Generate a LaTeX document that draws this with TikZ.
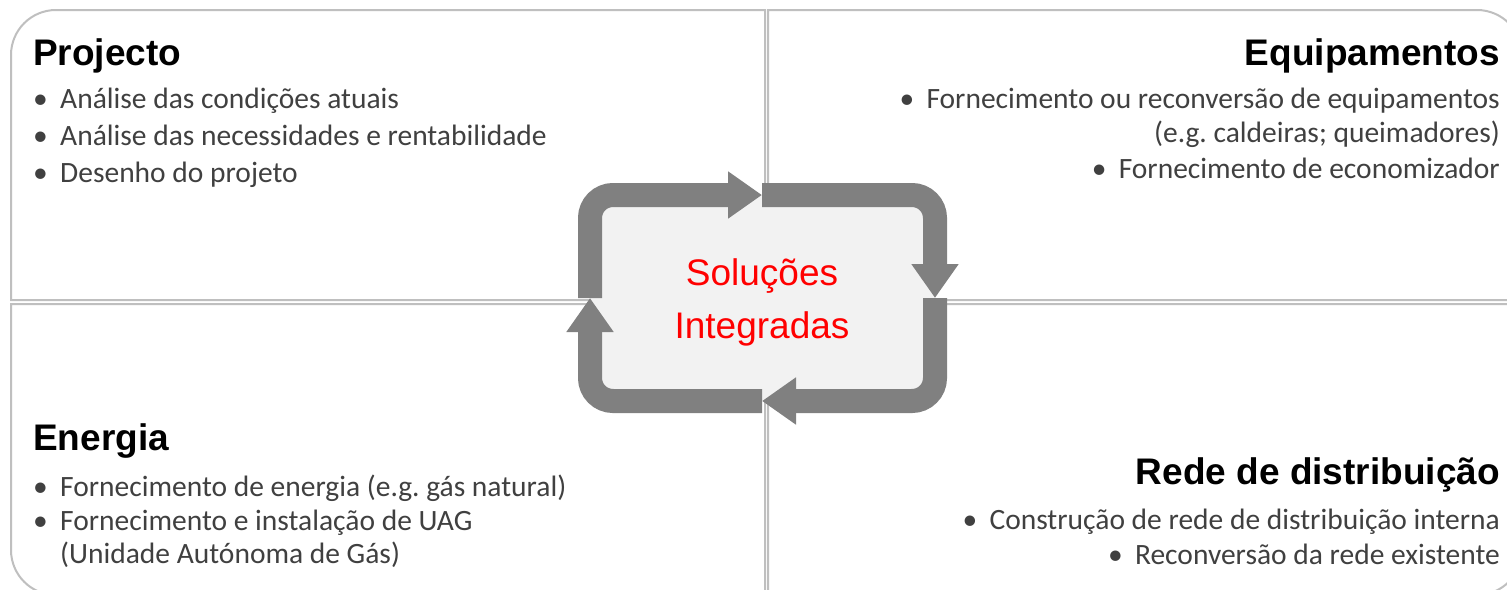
\documentclass[tikz,border=0pt]{standalone}
\usepackage{fontspec}
\setmainfont{Carlito}
\newfontfamily\arialfont{Liberation Sans}
\usetikzlibrary{arrows.meta}
\definecolor{linegray}{HTML}{BFBFBF}
\definecolor{boxgray}{HTML}{F2F2F2}
\definecolor{arrgray}{HTML}{808080}
\definecolor{txtgray}{HTML}{404040}
\newcommand{\bul}{\makebox[27pt][l]{•}}
\frenchspacing
\begin{document}
\begin{tikzpicture}[x=1pt,y=-1pt,
  quad/.style={draw=linegray, line width=2pt, fill=white},
  cyc/.style={draw=arrgray, line width=24pt, rounded corners=23pt, -{Triangle[length=34pt,width=45pt]}},
  head/.style={font=\arialfont\bfseries\fontsize{37}{44}\selectfont, text=black, inner sep=0pt},
  body/.style={font=\fontsize{29.5}{35}\selectfont, text=txtgray, inner sep=0pt},
  centre/.style={font=\arialfont\fontsize{37}{44}\selectfont, text=red, inner sep=0pt}]
\useasboundingbox (0,0) rectangle (1507,589);
\clip (0,0) rectangle (1507,589);
% quadrants
\draw[quad] (765,300) -- (11,300) -- (11,55) arc[start angle=180, end angle=270, radius=45] -- (765,10) -- cycle;
\draw[quad] (768,300) -- (768,10) -- (1477,10) arc[start angle=270, end angle=360, radius=45] -- (1522,300) -- cycle;
\draw[quad] (765,304) -- (11,304) -- (11,550) arc[start angle=180, end angle=90, radius=45] -- (765,595) -- cycle;
\draw[quad] (768,304) -- (1522,304) -- (1522,550) arc[start angle=0, end angle=90, radius=45] -- (768,595) -- cycle;
% centre cycle
\coordinate (L) at (590,298);
\coordinate (T) at (762,195);
\coordinate (R) at (935,298);
\coordinate (B) at (762,401);
\coordinate (cTL) at (590,195);
\coordinate (cTR) at (935,195);
\coordinate (cBR) at (935,401);
\coordinate (cBL) at (590,401);
\fill[boxgray, rounded corners=23pt] (cTL) rectangle (cBR);
\draw[cyc] (L) -- (cTL) -- (T);
\draw[cyc] (T) -- (cTR) -- (R);
\draw[cyc] (R) -- (cBR) -- (B);
\draw[cyc] (B) -- (cBL) -- (L);
\node[centre, anchor=base] (s1) at (762,285) {Soluções};
\node[centre, anchor=base] (s2) at (762,338) {Integradas};
% Projecto
\node[head, anchor=base west] (h1) at (33,65) {Projecto};
\node[body, anchor=base west] (p1) at (33,108) {\bul Análise das condições atuais};
\node[body, anchor=base west] (p2) at (33,145) {\bul Análise das necessidades e rentabilidade};
\node[body, anchor=base west] (p3) at (33,182) {\bul Desenho do projeto};
% Equipamentos
\node[head, anchor=base east] (h2) at (1500,65) {Equipamentos};
\node[body, anchor=base east] (e1) at (1500,108) {\bul Fornecimento ou reconversão de equipamentos};
\node[body, anchor=base east] (e2) at (1500,142) {(e.g. caldeiras; queimadores)};
\node[body, anchor=base east] (e3) at (1500,178) {\bul Fornecimento de economizador};
% Energia
\node[head, anchor=base west] (h3) at (33,450) {Energia};
\node[body, anchor=base west] (n1) at (33,496) {\bul Fornecimento de energia (e.g. gás natural)};
\node[body, anchor=base west] (n2) at (33,530) {\bul Fornecimento e instalação de UAG};
\node[body, anchor=base west] (n3) at (60,563) {(Unidade Autónoma de Gás)};
% Rede
\node[head, anchor=base east] (h4) at (1500,484) {Rede de distribuição};
\node[body, anchor=base east] (r1) at (1500,529) {\bul Construção de rede de distribuição interna};
\node[body, anchor=base east] (r2) at (1500,564) {\bul Reconversão da rede existente};
\end{tikzpicture}
\end{document}
